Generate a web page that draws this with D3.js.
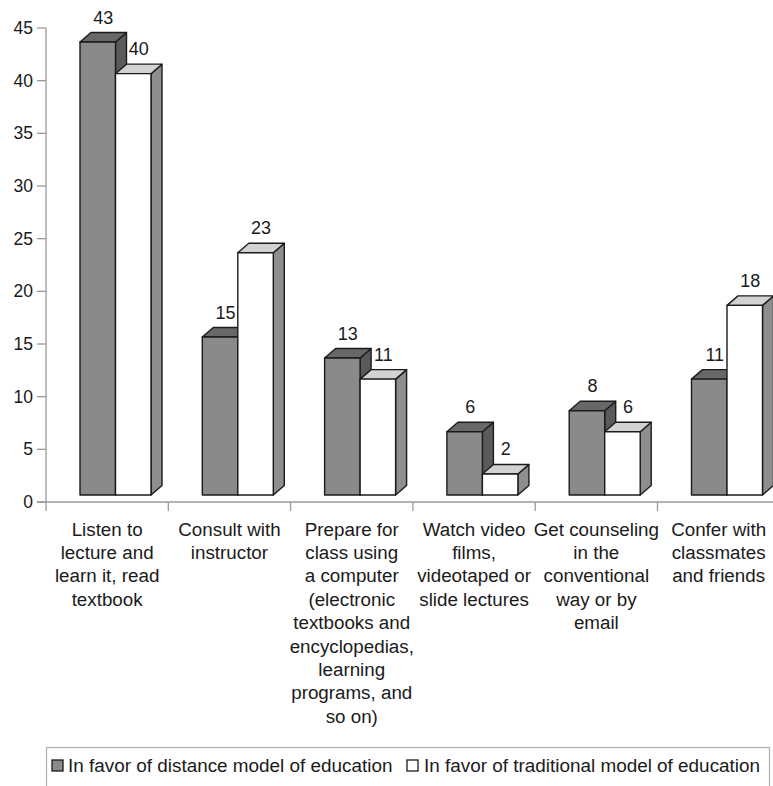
<!DOCTYPE html>
<html>
<head>
<meta charset="utf-8">
<script src="https://cdn.jsdelivr.net/npm/d3@7"></script>
<style>
  html, body { margin: 0; padding: 0; background: #fff; }
  svg { display: block; font-family: "Liberation Sans", Arial, Helvetica, sans-serif; }
</style>
</head>
<body>
<svg id="chart" width="773" height="786"></svg>
<script>
// Survey: preferred ways of studying, by model of education
const categories = [
  ["Listen to", "lecture and", "learn it, read", "textbook"],
  ["Consult with", "instructor"],
  ["Prepare for", "class using", "a computer", "(electronic", "textbooks and", "encyclopedias,", "learning", "programs, and", "so on)"],
  ["Watch video", "films,", "videotaped or", "slide lectures"],
  ["Get counseling", "in the", "conventional", "way or by", "email"],
  ["Confer with", "classmates", "and friends"]
];
const seriesNames = [
  "In favor of distance model of education",
  "In favor of traditional model of education"
];
const distanceValues = [43, 15, 13, 6, 8, 11];
const traditionalValues = [40, 23, 11, 2, 6, 18];
const yTicks = [0, 5, 10, 15, 20, 25, 30, 35, 40, 45];

const svg = d3.select("#chart");
const W = 773, H = 786;

// Plot geometry
const x0 = 46, step = 122.3, yBase = 502, yTop = 28;
const depthX = 11, depthY = -9.5;   // 3D extrusion toward the back
const lift = 7;                      // front faces sit slightly above the floor line

const catIdx = d3.range(categories.length);
const x = d3.scaleBand().domain(catIdx).range([x0, x0 + step * categories.length]).padding(0);
const xInner = d3.scaleBand().domain([0, 1]).range([34, 34 + 71]).padding(0);
const y = d3.scaleLinear().domain([0, 45]).range([yBase, yTop]);

const styles = [
  { front: "#8a8a8a", top: "#686868", side: "#5a5a5a" },
  { front: "#ffffff", top: "#d2d2d2", side: "#8e8e8e" }
];
const axisColor = "#9a9a9a";
const textColor = "#1a1a1a";

// Y axis
const gy = svg.append("g");
gy.append("line").attr("x1", x0).attr("x2", x0).attr("y1", y(45)).attr("y2", yBase)
  .attr("stroke", axisColor).attr("stroke-width", 1.3);
gy.selectAll("line.tick").data(yTicks).join("line").attr("class", "tick")
  .attr("x1", 37).attr("x2", x0).attr("y1", d => y(d)).attr("y2", d => y(d))
  .attr("stroke", axisColor).attr("stroke-width", 1.3);
gy.selectAll("text").data(yTicks).join("text")
  .attr("x", 33).attr("y", d => y(d) + 6)
  .attr("text-anchor", "end").attr("font-size", 17.5).attr("fill", textColor)
  .text(d => d);

// X axis
const gx = svg.append("g");
gx.append("line").attr("x1", 37).attr("x2", W).attr("y1", yBase).attr("y2", yBase)
  .attr("stroke", axisColor).attr("stroke-width", 1.3);
gx.selectAll("line.tick").data(catIdx).join("line").attr("class", "tick")
  .attr("x1", d => x(d)).attr("x2", d => x(d)).attr("y1", yBase).attr("y2", yBase + 9)
  .attr("stroke", axisColor).attr("stroke-width", 1.3);

// Category labels
const labels = svg.append("g");
catIdx.forEach(i => {
  const t = labels.append("text")
    .attr("text-anchor", "middle").attr("font-size", 18.8).attr("fill", textColor);
  categories[i].forEach((line, k) => {
    t.append("tspan").attr("x", x(i) + x.bandwidth() / 2).attr("y", 535.5 + k * 23.4).text(line);
  });
});

// 3D bars
const bars = svg.append("g");
const seriesData = [distanceValues, traditionalValues];
catIdx.forEach(i => {
  [0, 1].forEach(s => {
    const v = seriesData[s][i];
    const st = styles[s];
    const xl = x(i) + xInner(s);
    const xr = xl + xInner.bandwidth();
    const yt = y(v) - lift;
    const yb = yBase - lift;
    const g = bars.append("g").attr("stroke", "#1b1b1b").attr("stroke-width", 1.4)
      .attr("stroke-linejoin", "round");
    // side face
    g.append("path").attr("fill", st.side)
      .attr("d", `M${xr},${yt} L${xr + depthX},${yt + depthY} L${xr + depthX},${yb + depthY} L${xr},${yb} Z`);
    // top face
    g.append("path").attr("fill", st.top)
      .attr("d", `M${xl},${yt} L${xl + depthX},${yt + depthY} L${xr + depthX},${yt + depthY} L${xr},${yt} Z`);
    // front face
    g.append("rect").attr("fill", st.front)
      .attr("x", xl).attr("y", yt).attr("width", xr - xl).attr("height", yb - yt);
    // value label
    svg.append("text")
      .attr("x", (xl + xr) / 2 + depthX / 2).attr("y", yt + depthY - 9)
      .attr("text-anchor", "middle").attr("font-size", 18).attr("fill", textColor)
      .text(v);
  });
});

// Legend
const leg = svg.append("g");
leg.append("rect").attr("x", 46.5).attr("y", 747.5).attr("width", 723).attr("height", 50)
  .attr("fill", "none").attr("stroke", "#b0b0b0").attr("stroke-width", 1.2);
const legendItems = [
  { sw: 52, tx: 68 },
  { sw: 407, tx: 424 }
];
seriesNames.forEach((name, s) => {
  leg.append("rect").attr("x", legendItems[s].sw).attr("y", 760).attr("width", 11).attr("height", 11)
    .attr("fill", styles[s].front).attr("stroke", "#1b1b1b").attr("stroke-width", 1.3);
  leg.append("text").attr("x", legendItems[s].tx).attr("y", 772)
    .attr("font-size", 18.9).attr("fill", textColor).text(name);
});
</script>
</body>
</html>
